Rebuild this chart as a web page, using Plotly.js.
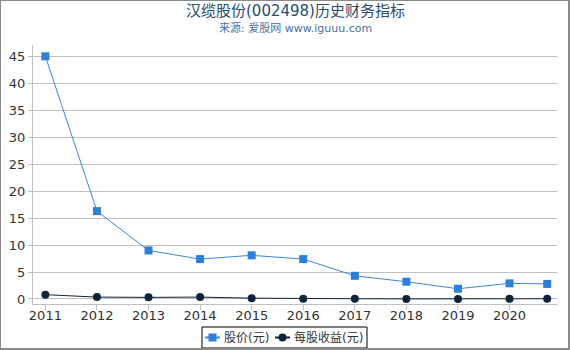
<!DOCTYPE html>
<html><head><meta charset="utf-8">
<script src="https://cdn.plot.ly/plotly-3.0.1.min.js"></script>
<style>
html,body{margin:0;padding:0;background:#fff;}
#wrap{position:relative;width:570px;height:350px;overflow:hidden;}
#chart{width:570px;height:350px;}
#frame{position:absolute;left:0;top:0;width:570px;height:350px;box-sizing:border-box;
  border-left:1px solid #8a8a8a;border-top:1px solid #8a8a8a;border-right:2px solid #8a8a8a;border-bottom:2px solid #8a8a8a;pointer-events:none;}
</style></head><body>
<div id="wrap"><div id="chart"></div><div id="frame"></div></div>
<script>
const years = [2011, 2012, 2013, 2014, 2015, 2016, 2017, 2018, 2019, 2020, 2020.73];
const price = [45.0, 16.3, 9.0, 7.4, 8.1, 7.4, 4.3, 3.2, 1.9, 2.9, 2.8];
const eps = [0.8, 0.35, 0.3, 0.35, 0.15, 0.05, 0.05, 0.02, 0.02, 0.05, 0.05];
const tickYears = [2011, 2012, 2013, 2014, 2015, 2016, 2017, 2018, 2019, 2020];
const tickLabels = ['2011','2012','2013','2014','2015','2016','2017','2018','2019','2020'];
const seriesNames = ['股价(元)', '每股收益(元)'];
const titleText = '汉缆股份(002498)历史财务指标';
const subtitleText = '来源: 爱股网 www.iguuu.com';

const W = 570, H = 350;
const M = {l: 33, r: 13, t: 45, b: 46};
const PW = W - M.l - M.r, PH = H - M.t - M.b;
const px = x => (x - M.l) / PW;          // pixel x -> paper x
const py = y => (H - M.b - y) / PH;      // pixel y -> paper y

const font = 'DejaVu Sans, "Noto Sans CJK SC", sans-serif';
const colPrice = '#2f7ed8', colPriceLine = '#3a86db', colEps = '#0d233a';
const traces = [
  {x: years, y: price, name: seriesNames[0], type: 'scatter', mode: 'lines+markers', showlegend: false,
   line: {color: colPriceLine, width: 1}, marker: {symbol: 'square', size: 8, color: colPrice}},
  {x: years, y: eps, name: seriesNames[1], type: 'scatter', mode: 'lines+markers', showlegend: false,
   line: {color: colEps, width: 1}, marker: {symbol: 'circle', size: 8, color: colEps}}
];

// custom legend (box, symbols, labels)
const lgY = 337.5;
const shapes = [
  {type: 'rect', xref: 'paper', yref: 'paper', x0: px(202), x1: px(367), y0: py(348), y1: py(327),
   line: {color: '#000', width: 1}, fillcolor: 'rgba(0,0,0,0)'},
  {type: 'line', xref: 'paper', yref: 'paper', x0: px(205), x1: px(220), y0: py(lgY), y1: py(lgY),
   line: {color: colPriceLine, width: 2}},
  {type: 'rect', xref: 'paper', yref: 'paper', x0: px(208.5), x1: px(216.5), y0: py(lgY + 4), y1: py(lgY - 4),
   line: {width: 0}, fillcolor: colPrice},
  {type: 'line', xref: 'paper', yref: 'paper', x0: px(275), x1: px(290), y0: py(lgY), y1: py(lgY),
   line: {color: colEps, width: 2}},
  {type: 'circle', xref: 'paper', yref: 'paper', x0: px(278.5), x1: px(286.5), y0: py(lgY + 4), y1: py(lgY - 4),
   line: {width: 0}, fillcolor: colEps}
];

const layout = {
  width: W, height: H,
  margin: M,
  paper_bgcolor: '#fff', plot_bgcolor: '#fff',
  font: {family: font, size: 13, color: '#333'},
  showlegend: false,
  shapes: shapes,
  annotations: [
    {text: titleText, xref: 'paper', yref: 'paper', x: 0.5, y: py(11), xanchor: 'center', yanchor: 'middle',
     showarrow: false, font: {family: font, size: 15, color: '#274b6d'}},
    {text: subtitleText, xref: 'paper', yref: 'paper', x: 0.5, y: py(28), xanchor: 'center', yanchor: 'middle',
     showarrow: false, font: {family: font, size: 11, color: '#4e6fa0'}},
    {text: seriesNames[0], xref: 'paper', yref: 'paper', x: px(222), y: py(lgY), xanchor: 'left', yanchor: 'middle',
     showarrow: false, font: {family: font, size: 12, color: '#333'}},
    {text: seriesNames[1], xref: 'paper', yref: 'paper', x: px(292), y: py(lgY), xanchor: 'left', yanchor: 'middle',
     showarrow: false, font: {family: font, size: 12, color: '#333'}}
  ],
  xaxis: {range: [2010.76, 2020.92], tickvals: tickYears, ticktext: tickLabels, showgrid: false,
          showline: true, linecolor: '#c0c0c0', linewidth: 1, ticks: 'outside', ticklen: 5, tickcolor: '#c0c0c0',
          ticklabelstandoff: -6,
          zeroline: false, tickfont: {size: 13, color: '#333'}},
  yaxis: {range: [-0.93, 47.1], tickvals: [0,5,10,15,20,25,30,35,40,45], showgrid: true, gridcolor: '#c0c0c0',
          showline: true, linecolor: '#c0c0c0', ticks: 'outside', ticklen: 4, tickcolor: '#c0c0c0',
          zeroline: false, tickfont: {size: 13, color: '#333'}}
};
Plotly.newPlot('chart', traces, layout, {displayModeBar: false, staticPlot: true});
</script></body></html>
